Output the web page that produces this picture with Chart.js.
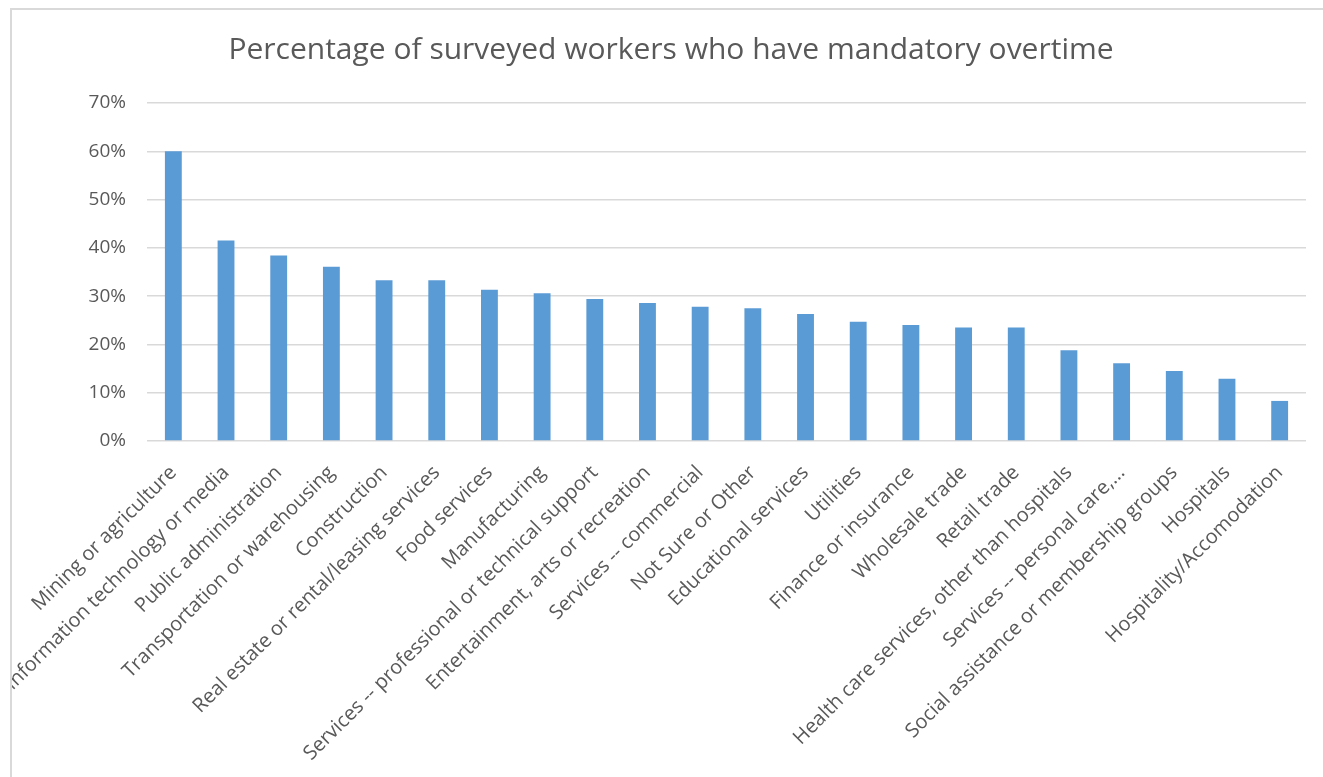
<!DOCTYPE html>
<html>
<head>
<meta charset="utf-8">
<script src="https://cdn.jsdelivr.net/npm/chart.js@4"></script>
<style>
  html, body { margin: 0; padding: 0; background: #fff; overflow: hidden; }
  #box {
    position: absolute; left: 10px; top: 8px; right: 0; bottom: 0;
    border-top: 2px solid #d9d9d9; border-left: 2px solid #d9d9d9;
    background: #fff;
  }
  #wrap { position: absolute; left: 0; top: 0; width: 1311px; height: 767px; }
</style>
</head>
<body>
<div id="box"><div id="wrap"><canvas id="mychart"></canvas></div></div>
<script>

// categories, in the order of the bars
var Labels = [
  'Mining or agriculture',
  'Information technology or media',
  'Public administration',
  'Transportation or warehousing',
  'Construction',
  'Real estate or rental/leasing services',
  'Food services',
  'Manufacturing',
  'Services -- professional or technical support',
  'Entertainment, arts or recreation',
  'Services -- commercial',
  'Not Sure or Other',
  'Educational services',
  'Utilities',
  'Finance or insurance',
  'Wholesale trade',
  'Retail trade',
  'Health care services, other than hospitals',
  'Services -- personal care,...',
  'Social assistance or membership groups',
  'Hospitals',
  'Hospitality/Accomodation'
];

// percent of workers with mandatory overtime
var Values = [
  60.0, 41.5, 38.4, 36.1, 33.3, 33.3, 31.3, 30.6, 29.4, 28.6, 27.8,
  27.5, 26.3, 24.7, 24.0, 23.5, 23.5, 18.8, 16.1, 14.5, 12.9, 8.3
];

var YTicks = [0, 10, 20, 30, 40, 50, 60, 70];

var textColor = '#595959';
var gridColor = '#d9d9d9';

const ctx = document.getElementById('mychart').getContext('2d');

const data =
{
  labels: Labels,
  datasets:
  [
    {
      label: 'Mandatory overtime',
      data: Values,
      backgroundColor: '#5B9BD5',
      borderWidth: 0,
      barPercentage: 0.32,
      categoryPercentage: 1.0
    }
  ]
};

const scales =
{
  x:
  {
    grid: { display: false, drawTicks: false },
    border: { display: false },
    ticks:
    {
      color: textColor,
      font: { family: 'Open Sans', size: 20 },
      autoSkip: false,
      maxRotation: 45,
      minRotation: 45,
      padding: 20
    },
    afterFit: function(scale) { scale.height = 336; }
  },
  y:
  {
    min: 0,
    max: 70,
    afterBuildTicks: function(scale) {
      scale.ticks = YTicks.map(function(v) { return { value: v }; });
    },
    grid: { color: gridColor, lineWidth: 1.5, drawTicks: false },
    border: { display: false },
    ticks:
    {
      color: textColor,
      font: { family: 'Open Sans', size: 19 },
      padding: 21,
      callback: function(v) { return v + '%'; }
    },
    afterFit: function(scale) { scale.width = 111; }
  }
};

const config =
{
  type: 'bar',
  data: data,
  options:
  {
    responsive: true,
    maintainAspectRatio: false,
    animation: false,
    layout: { padding: { left: 24, right: 17, top: 0, bottom: 0 } },
    scales: scales,
    plugins:
    {
      legend: { display: false },
      tooltip: { enabled: false },
      title:
      {
        display: true,
        text: 'Percentage of surveyed workers who have mandatory overtime',
        color: textColor,
        align: 'center',
        font: { family: 'Open Sans', size: 30, weight: 'normal', lineHeight: 1.2 },
        padding: { top: 22, bottom: 35 }
      }
    }
  }
};

const barChart = new Chart(ctx, config);
</script>
</body>
</html>
